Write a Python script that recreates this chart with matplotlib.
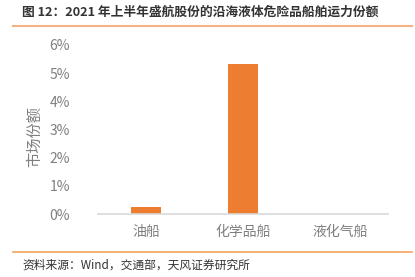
import matplotlib.pyplot as plt
from matplotlib.lines import Line2D

plt.rcParams['font.family'] = ['Noto Sans CJK SC', 'DejaVu Sans']

# data
categories = ["油船", "化学品船", "液化气船"]
shares = [0.25, 5.32, 0.0]
yticks = [0, 1, 2, 3, 4, 5, 6]

fig = plt.figure(figsize=(4.15, 2.77), dpi=100)
ax = fig.add_axes([0.236, 0.227, 0.699, 0.611])

ax.bar(range(len(categories)), shares, width=0.31, color="#ED7D31")
ax.set_xlim(-0.5, len(categories) - 0.5)
ax.set_ylim(0, 6)
ax.set_yticks(yticks)
ax.set_yticklabels([f"{v}%" for v in yticks])
ax.set_xticks(range(len(categories)))
ax.set_xticklabels(categories)

for s in ["top", "right", "left"]:
    ax.spines[s].set_visible(False)
ax.spines["bottom"].set_color("#D9D9D9")
ax.spines["bottom"].set_linewidth(1.2)
ax.tick_params(axis="both", length=0, colors="#7F7F7F", labelsize=10)
ax.tick_params(axis="x", pad=8)
ax.tick_params(axis="y", pad=20)
for lbl in ax.get_xticklabels() + ax.get_yticklabels():
    lbl.set_fontweight("light")
ax.set_ylabel("市场份额", color="#7F7F7F", fontsize=11, fontweight="light")
ax.yaxis.set_label_coords(-0.19, 0.46)

fig.text(0.053, 0.955, "图 12：2021 年上半年盛航股份的沿海液体危险品船舶运力份额",
         fontsize=9.2, fontweight="bold", color="#333333", va="center")
fig.add_artist(Line2D([0.031, 0.993], [0.906, 0.906], color="#F4B183", lw=1.5))
fig.add_artist(Line2D([0.031, 0.993], [0.09, 0.09], color="#F4A460", lw=1.2))
fig.text(0.053, 0.043, "资料来源：Wind，交通部，天风证券研究所",
         fontsize=8.5, color="#333333", va="center")

fig.savefig("out.png", dpi=100)
